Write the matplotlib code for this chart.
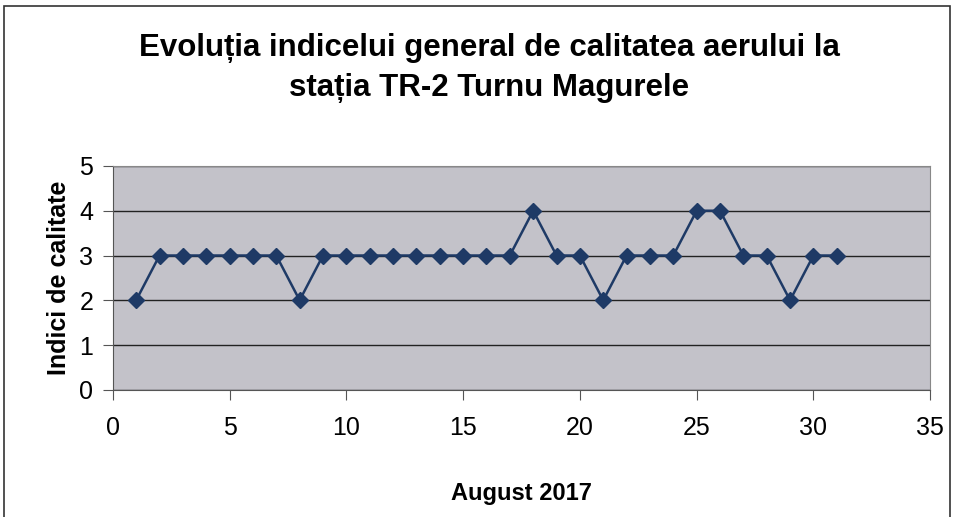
import matplotlib
matplotlib.use("Agg")
import matplotlib.pyplot as plt
from matplotlib.patches import Rectangle

# Data
days = list(range(1, 32))
indici = [2, 3, 3, 3, 3, 3, 3, 2, 3, 3, 3, 3, 3, 3, 3, 3, 3, 4, 3, 3,
          2, 3, 3, 3, 4, 4, 3, 3, 2, 3, 3]
xticks = [0, 5, 10, 15, 20, 25, 30, 35]
yticks = [0, 1, 2, 3, 4, 5]

title = "Evoluția indicelui general de calitatea aerului la\nstația TR-2 Turnu Magurele"
xlabel = "August 2017"
ylabel = "Indici de calitate"

plt.rcParams["font.family"] = ["Liberation Sans", "DejaVu Sans"]

fig = plt.figure(figsize=(9.56, 5.17), dpi=100)
fig.patches.append(Rectangle((0.004, -0.02), 0.99, 1.008, transform=fig.transFigure,
                             fill=False, edgecolor="#333333", linewidth=1.2))

ax = fig.add_axes([0.118, 0.246, 0.855, 0.433])
ax.set_facecolor("#c3c2c9")
ax.plot(days, indici, color="#1e3a66", linewidth=1.8, marker="D",
        markersize=8, markerfacecolor="#1e3a66", markeredgecolor="#1e3a66")

ax.set_xlim(0, 35)
ax.set_ylim(0, 5)
ax.set_xticks(xticks)
ax.set_yticks(yticks)
ax.yaxis.grid(True, color="#222222", linewidth=1.0)
ax.set_axisbelow(True)
for side in ["top", "right"]:
    ax.spines[side].set_color("#888888")
for side in ["left", "bottom"]:
    ax.spines[side].set_color("#555555")
ax.tick_params(axis="both", labelsize=18, length=7, color="#555555", pad=7)
ax.tick_params(axis="x", pad=12)

ax.set_xlabel(xlabel, fontsize=17, fontweight="bold", labelpad=30)
ax.set_ylabel(ylabel, fontsize=18, fontweight="bold", labelpad=6)

fig.text(0.512, 0.868, title, ha="center", va="center", fontsize=22.5,
         fontweight="bold", linespacing=1.45)

fig.savefig("out.png", dpi=100, facecolor="white")
